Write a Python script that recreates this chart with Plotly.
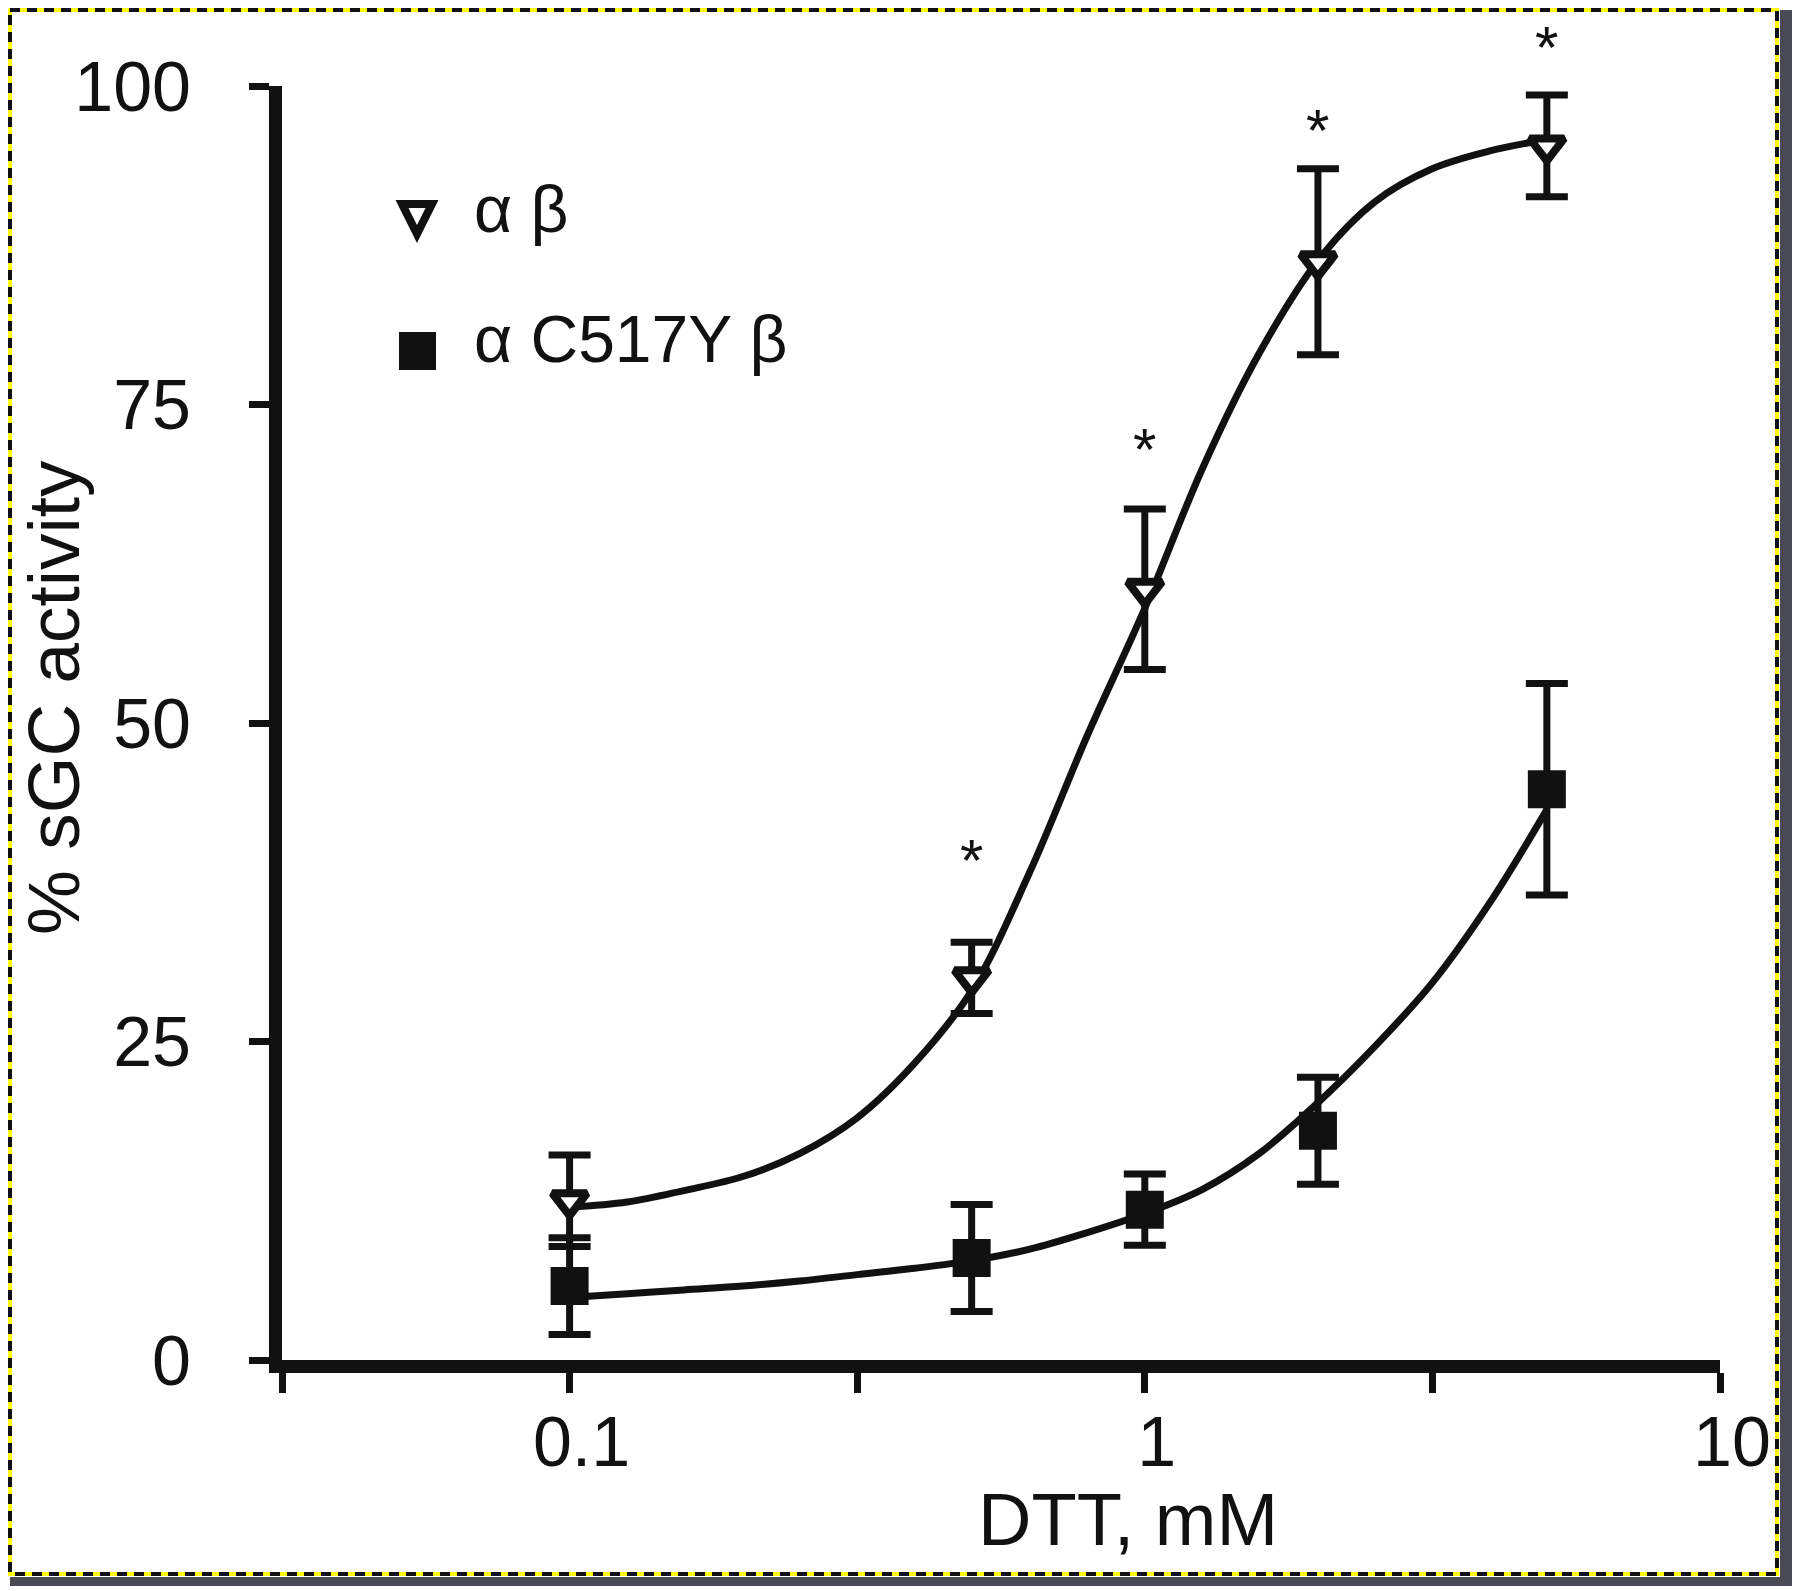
import math
import plotly.graph_objects as go

# ---------------- data ----------------
dtt_mM = [0.1, 0.5, 1, 2, 5]

wt_label = "α β"
wt_mean = [12.5, 30.0, 60.5, 86.2, 95.3]
wt_err = [3.6, 2.8, 6.3, 7.3, 4.0]

mut_label = "α C517Y β"
mut_mean = [5.8, 8.0, 11.8, 18.0, 44.8]
mut_err = [3.8, 4.2, 2.8, 4.2, 8.3]

# fitted curves
fit_x = [0.1, 0.126, 0.158, 0.2, 0.251, 0.316, 0.398, 0.5, 0.631, 0.794, 1.0,
         1.26, 1.58, 2.0, 2.51, 3.16, 3.98, 5.0]
wt_fit = [12.0, 12.4, 13.3, 14.4, 16.2, 19.0, 23.3, 29.0, 38.3, 49.0, 59.0,
          70.0, 79.0, 86.3, 90.9, 93.5, 94.9, 95.8]
mut_fit = [4.9, 5.2, 5.5, 5.8, 6.2, 6.7, 7.2, 7.8, 8.7, 10.0, 11.5,
           13.4, 16.2, 20.2, 24.6, 29.6, 35.9, 43.2]

# significance asterisks (positions)
sig_x = [0.5, 1, 2, 5]
sig_y = [39.2, 71.5, 96.5, 103.0]

x_tickvals = [10 ** -1.5, 0.1, 10 ** -0.5, 1, 10 ** 0.5, 10]
x_ticktext = ["", "0.1", "", "1", "", "10"]
y_tickvals = [0, 25, 50, 75, 100]
y_range = [0, 100]

FONT = "Liberation Sans, Arial, Helvetica, sans-serif"
INK = "#111"
W, H = 1792, 1583          # page has an 8px body margin
OFF = 8
L, R, T, B = 274, 1712, 78, 1352

fig = go.Figure()

fig.add_trace(go.Scatter(x=fit_x, y=wt_fit, mode="lines", line=dict(color=INK, width=7, shape="spline"),
                         showlegend=False, hoverinfo="skip"))
fig.add_trace(go.Scatter(x=fit_x, y=mut_fit, mode="lines", line=dict(color=INK, width=7, shape="spline"),
                         showlegend=False, hoverinfo="skip"))

fig.add_trace(go.Scatter(
    x=dtt_mM, y=wt_mean, mode="markers", name=wt_label,
    marker=dict(symbol="triangle-down", size=30, color="white", line=dict(color=INK, width=8)),
    error_y=dict(type="data", array=wt_err, visible=True, color=INK, thickness=7, width=21),
    showlegend=False, cliponaxis=False))
fig.add_trace(go.Scatter(
    x=dtt_mM, y=mut_mean, mode="markers", name=mut_label,
    marker=dict(symbol="square", size=38, color=INK, line=dict(width=0)),
    error_y=dict(type="data", array=mut_err, visible=True, color=INK, thickness=7, width=21),
    showlegend=False, cliponaxis=False))


def px(xpage):
    return (xpage - OFF - L) / (R - L)


def py(ypage):
    return (B - (ypage - OFF)) / (B - T)


shapes = []
# grey band on right/bottom edge
shapes.append(dict(type="rect", xref="paper", yref="paper", x0=px(1780), x1=px(1793), y0=py(10), y1=py(1586),
                   line=dict(width=0), fillcolor="#4a4a55", layer="above"))
shapes.append(dict(type="rect", xref="paper", yref="paper", x0=px(10), x1=px(1793), y0=py(1577), y1=py(1586),
                   line=dict(width=0), fillcolor="#4a4a55", layer="above"))
# yellow/black dashed frame
shapes.append(dict(type="rect", xref="paper", yref="paper", x0=px(10), x1=px(1777), y0=py(10), y1=py(1574),
                   line=dict(color="#ffff00", width=4), fillcolor="rgba(0,0,0,0)", layer="above"))
shapes.append(dict(type="rect", xref="paper", yref="paper", x0=px(10), x1=px(1777), y0=py(10), y1=py(1574),
                   line=dict(color=INK, width=4, dash="10px,7px"), fillcolor="rgba(0,0,0,0)", layer="above"))
# legend symbols
shapes.append(dict(type="path", xref="paper", yref="paper",
                   path=f"M {px(402)},{py(204)} L {px(432)},{py(204)} L {px(417)},{py(234)} Z",
                   line=dict(color=INK, width=8), fillcolor="white"))
shapes.append(dict(type="rect", xref="paper", yref="paper", x0=px(399), x1=px(436), y0=py(332), y1=py(370),
                   line=dict(width=0), fillcolor=INK))

annotations = [
    dict(xref="paper", yref="paper", x=px(472), y=py(209), text=wt_label, showarrow=False,
         xanchor="left", yanchor="middle", font=dict(family=FONT, size=66, color=INK)),
    dict(xref="paper", yref="paper", x=px(472), y=py(339), text=mut_label, showarrow=False,
         xanchor="left", yanchor="middle", font=dict(family=FONT, size=66, color=INK)),
    dict(xref="paper", yref="paper", x=px(1128), y=py(1519), text="DTT, mM", showarrow=False,
         xanchor="center", yanchor="middle", font=dict(family=FONT, size=74, color=INK)),
    dict(xref="paper", yref="paper", x=px(53), y=py(698), text="% sGC activity", showarrow=False,
         textangle=-90, xanchor="center", yanchor="middle", font=dict(family=FONT, size=73, color=INK)),
]
for sx, sy in zip(sig_x, sig_y):
    annotations.append(dict(xref="x", yref="paper", x=math.log10(sx),
                            y=(sy - y_range[0]) / (y_range[1] - y_range[0]), text="*", showarrow=False,
                            xanchor="center", yanchor="middle",
                            font=dict(family=FONT, size=60, color=INK)))

fig.update_layout(
    width=W, height=H,
    margin=dict(l=L, r=W - R, t=T, b=H - B, pad=0),
    paper_bgcolor="white", plot_bgcolor="white",
    shapes=shapes, annotations=annotations,
    showlegend=False,
    xaxis=dict(type="log", range=[-1.5, 1.0], tickvals=x_tickvals, ticktext=x_ticktext,
               showline=True, linecolor=INK, linewidth=13, ticks="outside", ticklen=20,
               tickwidth=7, tickcolor=INK, showgrid=False, zeroline=False,
               tickfont=dict(family=FONT, size=70, color=INK), ticklabelstandoff=-11,
               ticklabelshift=12),
    yaxis=dict(range=y_range, tickvals=y_tickvals, showline=True, linecolor=INK, linewidth=13,
               ticks="outside", ticklen=20, tickwidth=7, tickcolor=INK, showgrid=False,
               zeroline=False, tickfont=dict(family=FONT, size=70, color=INK),
               ticklabelstandoff=44),
)

fig.write_html("out.html")
